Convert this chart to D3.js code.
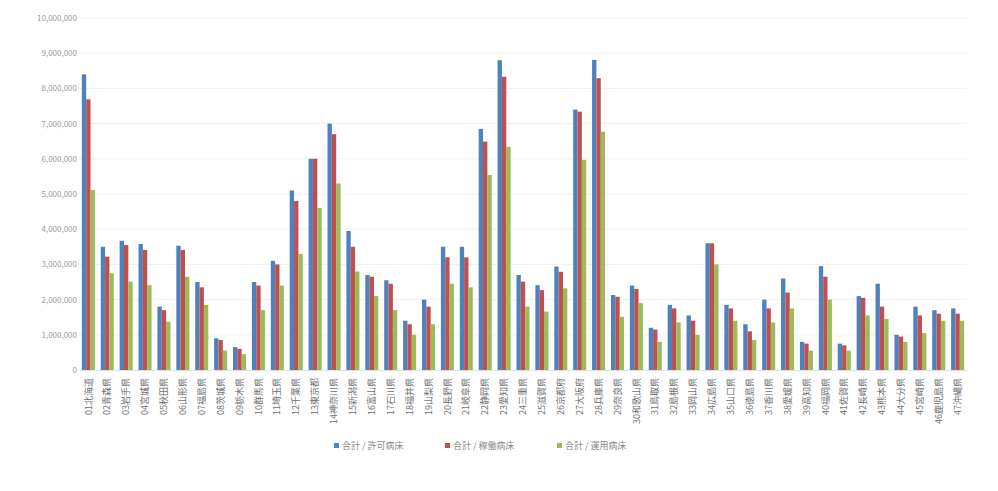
<!DOCTYPE html>
<html>
<head>
<meta charset="utf-8">
<script src="https://cdn.jsdelivr.net/npm/d3@7"></script>
<style>
  body { margin: 0; background: #fff; }
  text { font-family: "Noto Sans CJK JP", "Noto Sans", sans-serif; }
</style>
</head>
<body>
<div id="chart"></div>
<script>
// categories (prefectures)
var prefs = ["01北海道", "02青森県", "03岩手県", "04宮城県", "05秋田県", "06山形県", "07福島県",
    "08茨城県", "09栃木県", "10群馬県", "11埼玉県", "12千葉県", "13東京都", "14神奈川県",
    "15新潟県", "16富山県", "17石川県", "18福井県", "19山梨県", "20長野県", "21岐阜県",
    "22静岡県", "23愛知県", "24三重県", "25滋賀県", "26京都府", "27大阪府", "28兵庫県",
    "29奈良県", "30和歌山県", "31鳥取県", "32島根県", "33岡山県", "34広島県", "35山口県",
    "36徳島県", "37香川県", "38愛媛県", "39高知県", "40福岡県", "41佐賀県", "42長崎県",
    "43熊本県", "44大分県", "45宮崎県", "46鹿児島県", "47沖縄県"];

var keys = ["合計 / 許可病床", "合計 / 稼働病床", "合計 / 運用病床"];

// values
var kyoka = [8400000, 3500000, 3670000, 3580000, 1800000, 3530000, 2500000, 900000, 650000, 2500000,
    3100000, 5100000, 6000000, 7000000, 3950000, 2700000, 2550000, 1400000, 2000000, 3500000,
    3500000, 6850000, 8800000, 2700000, 2410000, 2940000, 7400000, 8810000, 2130000, 2400000,
    1200000, 1850000, 1550000, 3600000, 1850000, 1300000, 2000000, 2600000, 800000, 2950000,
    750000, 2100000, 2450000, 1000000, 1800000, 1700000, 1750000];
var kado = [7690000, 3220000, 3550000, 3410000, 1700000, 3410000, 2350000, 850000, 600000, 2400000,
    3000000, 4800000, 6000000, 6700000, 3500000, 2650000, 2450000, 1300000, 1800000, 3200000,
    3200000, 6490000, 8330000, 2510000, 2270000, 2790000, 7340000, 8290000, 2080000, 2300000,
    1150000, 1750000, 1400000, 3600000, 1750000, 1100000, 1750000, 2200000, 750000, 2650000,
    700000, 2050000, 1800000, 950000, 1550000, 1600000, 1600000];
var unyo = [5110000, 2750000, 2510000, 2410000, 1370000, 2650000, 1850000, 550000, 450000, 1700000,
    2400000, 3300000, 4600000, 5300000, 2800000, 2100000, 1700000, 1000000, 1300000, 2450000,
    2350000, 5540000, 6340000, 1800000, 1660000, 2320000, 5970000, 6770000, 1510000, 1900000,
    800000, 1350000, 1000000, 3000000, 1400000, 850000, 1350000, 1750000, 550000, 2000000,
    550000, 1550000, 1450000, 800000, 1050000, 1400000, 1400000];

var yTicks = [0, 1000000, 2000000, 3000000, 4000000, 5000000, 6000000, 7000000, 8000000, 9000000, 10000000];

var W = 998, H = 491;
var plotLeft = 79, plotRight = 967, plotTop = 18, plotBottom = 370;

var data = prefs.map(function (p, i) {
    return { name: p, vals: [kyoka[i], kado[i], unyo[i]] };
});

var svg = d3.select("#chart").append("svg")
    .attr("width", W)
    .attr("height", H);

var x0 = d3.scaleBand().domain(prefs).range([plotLeft, plotRight]).paddingInner(0.31).paddingOuter(0.15);
var x1 = d3.scaleBand().domain(keys).range([0, x0.bandwidth()]);
var y = d3.scaleLinear().domain([0, 10000000]).range([plotBottom, plotTop]);

var color = d3.scaleOrdinal().domain(keys).range(["#4f81bd", "#c0504d", "#9bbb59"]);

// gridlines
svg.append("g")
    .selectAll("line")
    .data(yTicks.slice(1))
    .enter().append("line")
    .attr("x1", plotLeft).attr("x2", plotRight)
    .attr("y1", function (d) { return y(d); })
    .attr("y2", function (d) { return y(d); })
    .attr("stroke", "#f0f0f0")
    .attr("stroke-width", 1);

// y axis
var yAxis = d3.axisLeft(y).tickValues(yTicks).tickSize(0).tickPadding(2)
    .tickFormat(d3.format(","));
var gy = svg.append("g")
    .attr("transform", "translate(" + plotLeft + ",0)")
    .call(yAxis);
gy.select(".domain").remove();
gy.selectAll("text")
    .attr("fill", "#9a9a9a")
    .style("font-size", "8px");

// bars
var groups = svg.append("g")
    .selectAll("g")
    .data(data)
    .enter().append("g")
    .attr("transform", function (d) { return "translate(" + x0(d.name) + ",0)"; });

groups.selectAll("rect")
    .data(function (d) { return d.vals.map(function (v, i) { return { key: keys[i], value: v }; }); })
    .enter().append("rect")
    .attr("x", function (d) { return x1(d.key); })
    .attr("width", x1.bandwidth())
    .attr("y", function (d) { return y(d.value); })
    .attr("height", function (d) { return plotBottom - y(d.value); })
    .attr("fill", function (d) { return color(d.key); });

// x axis
var xAxis = d3.axisBottom(x0).tickSize(0).tickPadding(0);
var gx = svg.append("g")
    .attr("transform", "translate(0," + plotBottom + ")")
    .call(xAxis);
gx.select(".domain").attr("stroke", "#e0e0e0");
gx.selectAll("text")
    .attr("fill", "#707070")
    .style("font-size", "9px")
    .attr("transform", "rotate(-90)")
    .attr("x", -8)
    .attr("y", 0)
    .attr("dy", "0.35em")
    .style("text-anchor", "end");

// legend
var legX = [334, 445, 557];
var leg = svg.append("g")
    .selectAll("g")
    .data(keys)
    .enter().append("g")
    .attr("transform", function (d, i) { return "translate(" + legX[i] + ",446)"; });
leg.append("rect")
    .attr("x", 0).attr("y", -3)
    .attr("width", 5).attr("height", 5)
    .attr("fill", function (d) { return color(d); });
leg.append("text")
    .attr("x", 8)
    .attr("y", 0)
    .attr("dy", "0.35em")
    .attr("fill", "#8a8a8a")
    .style("font-size", "9px")
    .text(function (d) { return d; });
</script>
</body>
</html>
